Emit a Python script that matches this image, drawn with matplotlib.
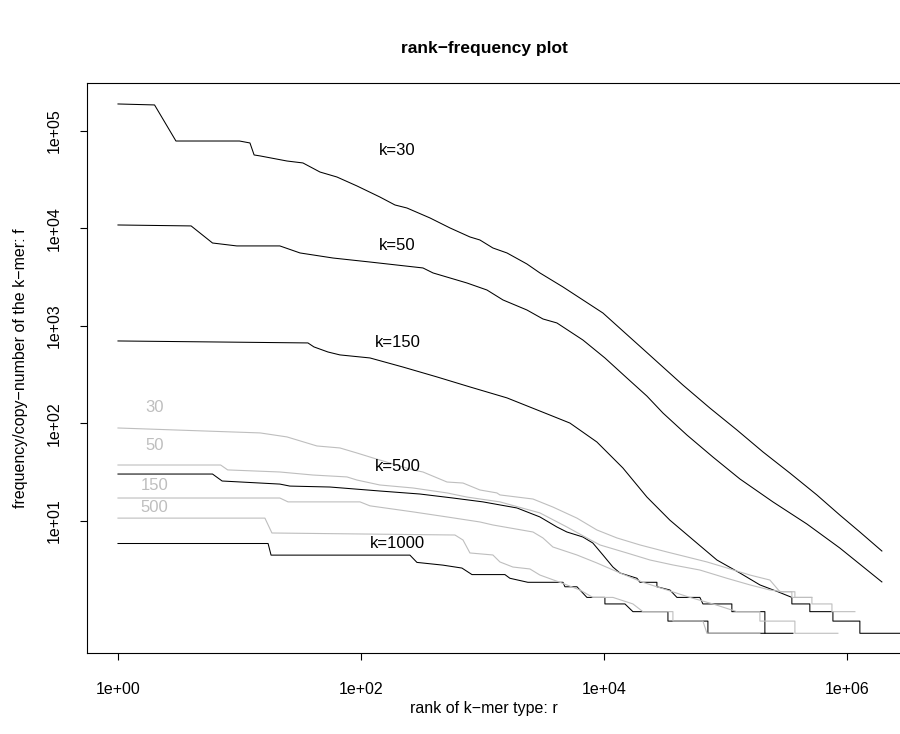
import matplotlib
matplotlib.use("Agg")
import matplotlib.pyplot as plt
from matplotlib.ticker import FixedLocator, NullLocator, FuncFormatter

plt.rcParams['font.family'] = ['Liberation Sans', 'DejaVu Sans']

# black curves: rank of k-mer type vs frequency
k30_rank = [1, 2, 3, 10, 12.2, 13.2, 14.8, 24.6, 33.3, 46, 63.4, 92.7, 143, 190.5, 239, 370, 541, 789,
            953, 1219, 1592, 2323, 2972, 4603, 6714, 9817, 14320, 20940, 30620, 44670, 74500, 124500,
            203700, 339600, 566000, 875000, 1279000, 1941000]
k30_freq = [189200, 184900, 78890, 78890, 75340, 56750, 55460, 49200, 46990, 37930, 33730, 27300,
            21040, 17420, 16220, 12820, 10120, 8185, 7621, 6310, 5610, 4325, 3499, 2512, 1849, 1358,
            889, 581, 379, 248, 144, 85.7, 51.1, 31.0, 18.5, 11.5, 7.71, 4.92]

k50_rank = [1, 4, 6, 9.5, 21.5, 31.5, 58.9, 118.6, 324, 392, 745, 1089, 1476, 2323, 3148, 4102, 6714,
            10190, 15450, 22590, 30620, 48190, 78890, 131500, 246000, 468800, 875000, 1941000]
k50_freq = [10860, 10620, 7096, 6622, 6622, 5610, 4977, 4529, 3936, 3499, 2761, 2339, 1849, 1459, 1180,
            1074, 718, 470, 293, 191, 128, 76.2, 45.3, 27.0, 15.7, 9.31, 5.28, 2.37]

k150_rank = [1, 36.6, 41, 53.5, 67.1, 118.6, 222, 423, 789, 1592, 3597, 5248, 8750, 14320, 22590,
             34910, 58210, 85110, 131500, 192300, 270400, 352400, 352400, 495500, 495500, 767400,
             767400, 1279000, 1279000, 3177000]
k150_freq = [702, 670, 610, 541, 505, 470, 379, 300, 237, 183, 122, 101, 64.6, 35.0, 17.6, 10.2, 5.94,
             3.98, 2.93, 2.21, 1.88, 1.645, 1.41, 1.41, 1.175, 1.175, 0.94, 0.94, 0.705, 0.705]

k500_rank = [1, 6, 7.2, 21.5, 26, 55.6, 143, 306, 572, 1009, 1923, 2972, 4102, 4955, 6714, 8110, 9817,
             11860, 13550, 18710, 19790, 27300, 27300, 34910, 39900, 61660, 65310, 113000, 113000,
             211300, 211300, 359700]
k500_freq = [30.3, 30.3, 25.7, 23.9, 22.8, 22.3, 20.3, 18.9, 17.2, 15.7, 13.6, 11.0, 8.68, 7.71, 6.85,
             5.94, 4.48, 3.37, 2.93, 2.585, 2.35, 2.35, 2.115, 1.96, 1.645, 1.645, 1.41, 1.41, 1.175,
             1.175, 0.705, 0.705]

k1000_rank = [1, 17.2, 18.2, 253, 289, 473, 678, 820, 1531, 1683, 2366, 4603, 4775, 5998, 7244, 10190,
              10190, 14890, 17330, 33650, 33650, 71780, 71780, 211300]
k1000_freq = [5.875, 5.875, 4.465, 4.465, 3.76, 3.525, 3.29, 2.82, 2.82, 2.585, 2.35, 2.35, 2.115,
              2.115, 1.645, 1.645, 1.41, 1.41, 1.175, 1.175, 0.94, 0.94, 0.705, 0.705]

# grey curves
g30_rank = [1, 14.8, 24.6, 43.4, 67.1, 92.7, 125.6, 173, 268, 324, 511, 692, 953, 1315, 1393, 2606,
            3802, 5998, 8750, 12790, 19790, 33030, 48190, 70470, 102800, 159200, 232300, 281000,
            352400, 352400, 515200, 515200, 753400, 753400, 1164000]
g30_freq = [89.9, 80.0, 72.8, 58.8, 56.1, 49.8, 44.3, 39.3, 33.4, 31.8, 25.1, 24.5, 20.8, 19.4, 18.5,
            16.8, 13.9, 10.7, 8.09, 6.70, 5.68, 4.81, 4.28, 3.80, 3.30, 2.79, 2.48, 1.88, 1.88, 1.645,
            1.645, 1.41, 1.41, 1.175, 1.175]

g50_rank = [1, 7, 8, 21.5, 40.3, 76.7, 92.7, 143, 268, 511, 745, 1393, 2972, 4955, 7244, 9270, 15450,
            23930, 36980, 61660, 102800, 159200, 232300, 297200, 373300, 373300, 515200]
g50_freq = [37.5, 37.5, 33.4, 31.8, 29.6, 28.3, 26.3, 23.4, 21.8, 19.4, 17.6, 15.7, 12.1, 8.68, 6.70,
            5.68, 4.70, 3.98, 3.54, 3.14, 2.585, 2.21, 1.96, 1.88, 1.88, 1.645, 1.645]

g150_rank = [1, 21.5, 25.1, 98.2, 118.6, 268, 511, 953, 1219, 2606, 3148, 3802, 5998, 8750, 13550,
             20940, 33030, 51050, 78890, 124500, 192300, 192300, 373300, 373300, 843300]
g150_freq = [17.2, 17.2, 15.7, 15.7, 14.3, 12.4, 11.0, 9.77, 9.1, 7.71, 6.70, 5.41, 4.48, 3.71, 2.93,
             2.35, 1.96, 1.645, 1.41, 1.175, 1.175, 0.94, 0.94, 0.705, 0.705]

g500_rank = [1, 16.2, 18.5, 594, 692, 789, 1219, 1393, 1782, 2460, 2972, 4345, 6343, 8110, 11860,
             17330, 20940, 36980, 36980, 65310, 70470, 192300]
g500_freq = [10.7, 10.7, 7.53, 7.18, 6.38, 4.70, 4.48, 3.80, 3.37, 3.22, 2.79, 2.35, 1.96, 1.645,
             1.645, 1.41, 1.175, 1.175, 0.94, 0.94, 0.705, 0.705]

black_labels = ['k=30', 'k=50', 'k=150', 'k=500', 'k=1000']
black_label_y = [63800, 6620, 670, 36.6, 5.94]
grey_labels = ['30', '50', '150', '500']
grey_label_y = [147.5, 58.8, 22.9, 13.6]

grey = '#bebebe'

fig = plt.figure(figsize=(9, 7.34), dpi=100)
ax = fig.add_axes([87/900, 81/734, 851/900, 570/734])
ax.set_xscale('log')
ax.set_yscale('log')
ax.set_xlim(10**-0.255, 10**6.75)
ax.set_ylim(10**-0.354, 10**5.492)

for r, f in [(k30_rank, k30_freq), (k50_rank, k50_freq), (k150_rank, k150_freq),
             (k500_rank, k500_freq), (k1000_rank, k1000_freq)]:
    ax.plot(r, f, color='black', lw=0.75)
for r, f in [(g30_rank, g30_freq), (g50_rank, g50_freq), (g150_rank, g150_freq),
             (g500_rank, g500_freq)]:
    ax.plot(r, f, color=grey, lw=0.8)

for lab, y in zip(black_labels, black_label_y):
    ax.text(200, y, lab, ha='center', va='center', fontsize=12, color='black')
for lab, y in zip(grey_labels, grey_label_y):
    ax.text(2, y, lab, ha='center', va='center', fontsize=12, color=grey)

ax.xaxis.set_major_locator(FixedLocator([1, 1e2, 1e4, 1e6]))
ax.yaxis.set_major_locator(FixedLocator([1e1, 1e2, 1e3, 1e4, 1e5]))
ax.xaxis.set_minor_locator(NullLocator())
ax.yaxis.set_minor_locator(NullLocator())
fmt = FuncFormatter(lambda v, p: '{:.0e}'.format(v))
ax.xaxis.set_major_formatter(fmt)
ax.yaxis.set_major_formatter(fmt)
ax.tick_params(axis='both', direction='out', length=5, width=0.8, labelsize=11.5)
ax.tick_params(axis='x', pad=16)
ax.tick_params(axis='y', pad=13, labelrotation=90)
for lab in ax.get_yticklabels():
    lab.set_va('center')
for s in ax.spines.values():
    s.set_linewidth(0.8)

fig.text(484/900, 1 - 48/734, 'rank\u2212frequency plot', ha='center', va='center',
         fontsize=12.5, fontweight='bold')
fig.text(484/900, 1 - 708/734, 'rank of k\u2212mer type: r', ha='center', va='center', fontsize=11.5)
fig.text(21/900, 1 - 368/734, 'frequency/copy\u2212number of the k\u2212mer: f', ha='center',
         va='center', rotation=90, fontsize=11.5)

fig.savefig('out.png', dpi=100)
